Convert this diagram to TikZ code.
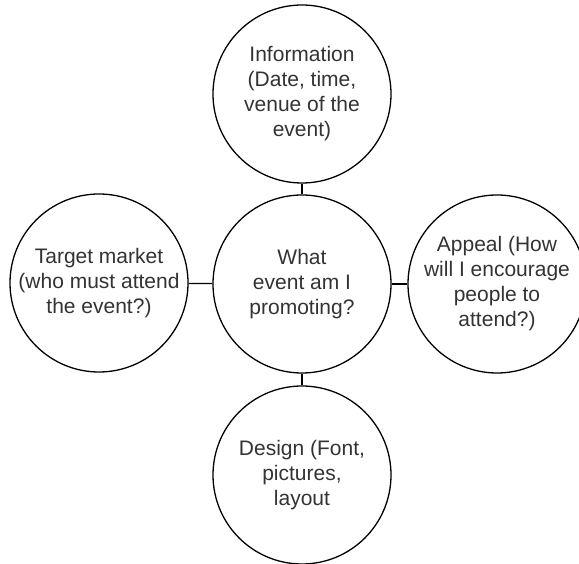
\documentclass[tikz,border=0pt]{standalone}
\usepackage{fontspec}
\setmainfont{Liberation Sans}
\definecolor{textgray}{HTML}{333333}
\begin{document}
\begin{tikzpicture}[line join=bevel,
  bubble/.style={draw=black,line width=1.3bp,circle,minimum size=178bp,inner sep=0pt,
    align=center,text=textgray,font=\fontsize{21bp}{25bp}\selectfont},
  ]
\useasboundingbox (0bp,0bp) rectangle (579bp,564bp);
\clip (0bp,0bp) rectangle (579bp,564bp);
%%
\node (node_0) at (302bp,280bp) [bubble] {What\\event am I\\promoting?};
  \node (node_1) at (302bp,470bp) [bubble] {Information\\(Date, time,\\venue of the\\event)};
  \node (node_2) at (99bp,281bp) [bubble] {Target market\\(who must attend\\the event?)};
  \node (node_3) at (497bp,280bp) [bubble] {Appeal (How\\will I encourage\\people to\\attend?)};
  \node (node_4) at (302bp,89bp) [bubble] {Design (Font,\\pictures,\\layout};
  \draw [black,line width=1.3bp] (node_0) -- (node_1);
  \draw [black,line width=1.3bp] (node_0) -- (node_2);
  \draw [black,line width=1.3bp] (node_0) -- (node_3);
  \draw [black,line width=1.3bp] (node_0) -- (node_4);
%
\end{tikzpicture}
\end{document}
